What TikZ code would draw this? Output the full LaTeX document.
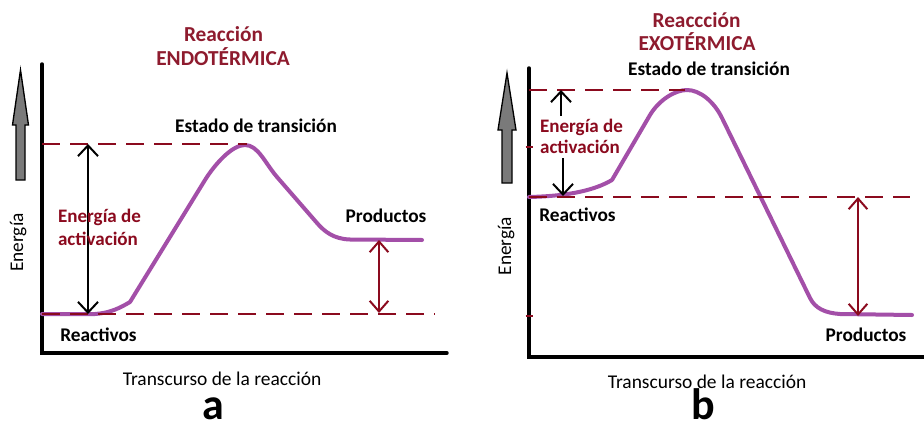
\documentclass[tikz,border=0pt]{standalone}
\usepackage{fontspec}
\setmainfont{Carlito}
\usetikzlibrary{arrows.meta}
\definecolor{dkred}{HTML}{8B0A1E}
\definecolor{titlered}{HTML}{8E1B2E}
\definecolor{curvepurple}{HTML}{A34FA8}
\definecolor{arrowgray}{HTML}{7A7A7A}
\tikzset{
  axisline/.style={line width=2.6pt, black, line cap=round},
  dashline/.style={line width=1.9pt, dkred, dash pattern=on 13.5pt off 7.5pt},
  curveline/.style={line width=3pt, curvepurple, line cap=round, line join=round},
  blackarrow/.style={line width=1.5pt, black, arrows={Straight Barb[length=8pt,width=15pt]-Straight Barb[length=8pt,width=15pt]}},
  blackup/.style={line width=1.5pt, black, -{Straight Barb[length=8pt,width=15pt]}},
  redarrow/.style={line width=1.5pt, dkred, arrows={Straight Barb[length=8pt,width=14pt]-Straight Barb[length=8pt,width=14pt]}},
  bigarrow/.style={fill=arrowgray, draw=black, line width=1pt, line join=miter},
  lbl/.style={font=\fontsize{14.5}{16}\selectfont\bfseries, anchor=base, inner sep=0pt},
  redlbl/.style={font=\fontsize{14.3}{16}\selectfont\bfseries, text=dkred, anchor=base, inner sep=0pt},
  titlelbl/.style={font=\fontsize{16}{18}\selectfont\bfseries, text=titlered, anchor=base, inner sep=0pt},
  caplbl/.style={font=\fontsize{14.6}{16}\selectfont, anchor=base, inner sep=0pt},
  ylbl/.style={font=\fontsize{14.5}{16}\selectfont, rotate=90, anchor=base, inner sep=0pt},
  letterlbl/.style={font=\fontsize{33}{35}\selectfont\bfseries, anchor=base, inner sep=0pt},
  tick/.style={line width=2.2pt, dkred}
}
\begin{document}
\begin{tikzpicture}[x=0.75pt,y=-0.75pt]
\useasboundingbox (0,0) rectangle (924,421);
% ---------------- Panel a ----------------
\draw[bigarrow] (20.5,70) -- (28.5,125) -- (25,125) -- (25,180) -- (16,180) -- (16,125) -- (12.5,125) -- cycle;
\coordinate (aO) at (42,353);
\coordinate (aYtop) at (42,64);
\coordinate (aXend) at (447,353);
\draw[axisline] (aYtop) -- (aO) -- (aXend);
% curve
\draw[curveline] (42,314) -- (95,314) .. controls (110,313) and (120,308) .. (130,302)
  -- (205,180) .. controls (215,164) and (232,145) .. (245,145)
  .. controls (258,145) and (265,163) .. (277,177)
  -- (317,223) .. controls (324,231) and (333,239) .. (350,239.5) -- (422,240);
% dashed lines
\coordinate (aTS1) at (42,144); \coordinate (aTS2) at (247,144);
\coordinate (aR1) at (42,314); \coordinate (aR2) at (435,314);
\draw[dashline] (aTS1) -- (aTS2);
\draw[dashline] (aR1) -- (aR2);
% arrows
\coordinate (aEaTop) at (88,144); \coordinate (aEaBot) at (88,314);
\draw[blackarrow] (aEaTop) -- (aEaBot);
\coordinate (aPtop) at (379,240); \coordinate (aPbot) at (379,313);
\draw[redarrow] (aPtop) -- (aPbot);
% labels
\node[titlelbl] (aT1) at (223.5,41) {Reacción};
\node[titlelbl] (aT2) at (223,65) {ENDOTÉRMICA};
\node[lbl] (aTS) at (256,132) {Estado de transición};
\node[redlbl] (aE1) at (99.5,222) {Energía de};
\node[redlbl] (aE2) at (98,245) {activación};
\node[lbl] (aR) at (98.5,341) {Reactivos};
\node[lbl] (aP) at (386,222) {Productos};
\node[ylbl] (aY) at (23,242.5) {Energía};
\node[caplbl] (aX) at (222,385) {Transcurso de la reacción};
\node[letterlbl] (aL) at (213,419) {a};
% ---------------- Panel b ----------------
\draw[bigarrow] (507,73) -- (516,130) -- (512,130) -- (512,183) -- (502,183) -- (502,130) -- (498,130) -- cycle;
\coordinate (bO) at (529,357);
\coordinate (bYtop) at (529,68);
\coordinate (bXend) at (924,357);
\draw[axisline] (bYtop) -- (bO) -- (bXend);
\coordinate (bt1a) at (525.5,147); \coordinate (bt1b) at (532.5,147);
\coordinate (bt2a) at (525.5,316); \coordinate (bt2b) at (532.5,316);
\draw[tick] (bt1a) -- (bt1b);
\draw[tick] (bt2a) -- (bt2b);
% curve
\draw[curveline] (529,197) .. controls (570,196) and (595,190) .. (612,180)
  -- (650,115) .. controls (659,100) and (675,90) .. (687,90)
  .. controls (700,90) and (714,101.6) .. (722,118)
  -- (810,298) .. controls (815,308.2) and (825,313) .. (840,314) -- (912,315);
% dashed lines
\coordinate (bTS1) at (529,90); \coordinate (bTS2) at (685,90);
\coordinate (bR1) at (529,197); \coordinate (bR2) at (910,197);
\draw[dashline] (bTS1) -- (bTS2);
\draw[dashline] (bR1) -- (bR2);
% arrows
\coordinate (bUpS) at (561,116); \coordinate (bUpE) at (561,90);
\coordinate (bDnS) at (563,158); \coordinate (bDnE) at (563,196);
\draw[blackup] (bUpS) -- (bUpE);
\draw[blackup] (bDnS) -- (bDnE);
\coordinate (bPtop) at (858,197); \coordinate (bPbot) at (858,316);
\draw[redarrow] (bPtop) -- (bPbot);
% labels
\node[titlelbl] (bT1) at (696.5,27) {Reaccción};
\node[titlelbl] (bT2) at (697,50) {EXOTÉRMICA};
\node[lbl] (bTS) at (709,75) {Estado de transición};
\node[redlbl] (bE1) at (581.5,132) {Energía de};
\node[redlbl] (bE2) at (580,153) {activación};
\node[lbl] (bR) at (577.5,221) {Reactivos};
\node[lbl] (bP) at (866,341) {Productos};
\node[ylbl] (bY) at (511,246) {Energía};
\node[caplbl] (bX) at (707,388) {Transcurso de la reacción};
\node[letterlbl] (bL) at (703,419) {b};
\end{tikzpicture}
\end{document}
